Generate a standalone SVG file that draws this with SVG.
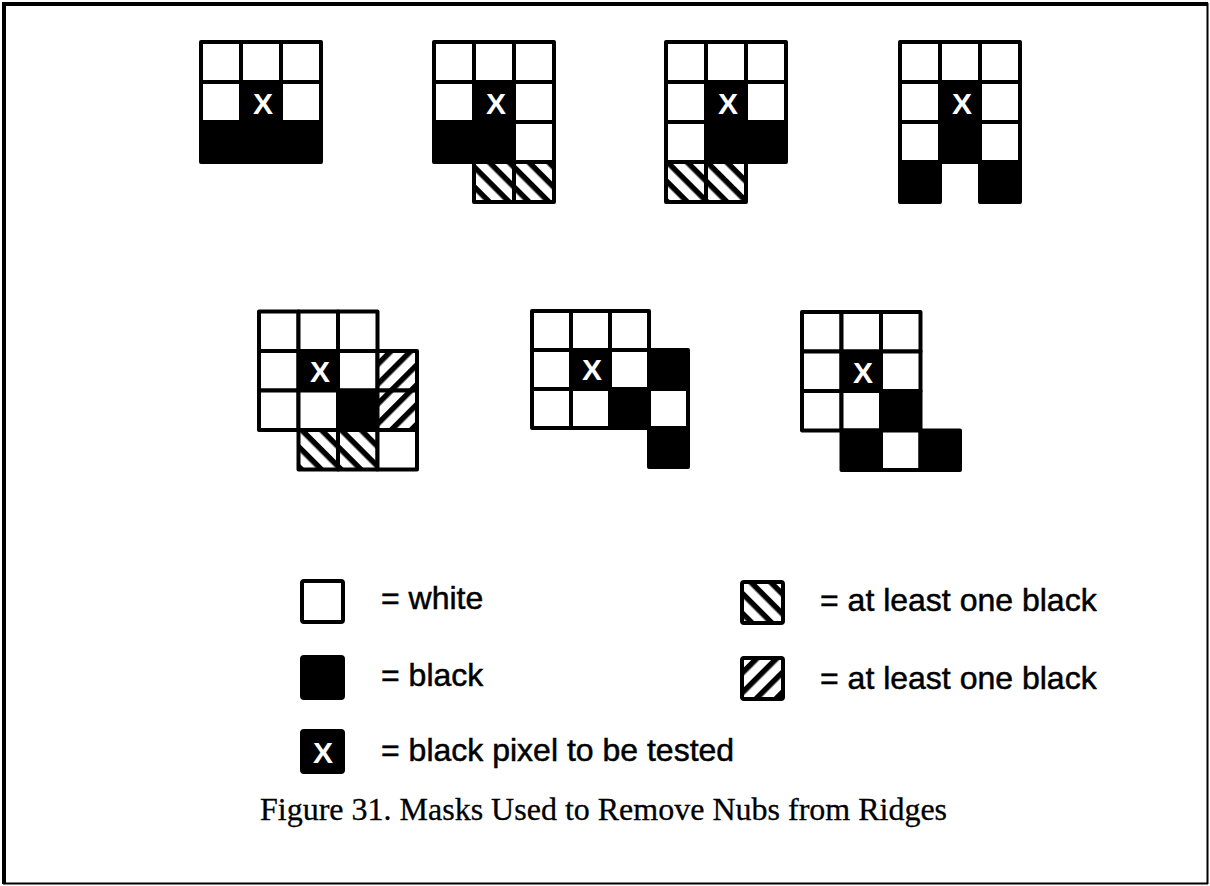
<svg xmlns="http://www.w3.org/2000/svg" width="1210" height="886" viewBox="0 0 1210 886">
<style>
.w{fill:#fff;stroke:#000;stroke-width:4;stroke-linejoin:round}
.b{fill:#000;stroke:#000;stroke-width:4;stroke-linejoin:round}
.hb{fill:url(#hb);stroke:#000;stroke-width:4;stroke-linejoin:round}
.hf{fill:url(#hf);stroke:#000;stroke-width:4;stroke-linejoin:round}
.x{font-family:"Liberation Sans",Arial,sans-serif;font-weight:bold;font-size:30px;fill:#fff;text-anchor:middle}
.t{font-family:"Liberation Sans",Arial,sans-serif;font-size:32px;fill:#000;stroke:#000;stroke-width:0.5}
.cap{font-family:"Liberation Serif","Times New Roman",serif;font-size:32px;fill:#000;stroke:#000;stroke-width:0.3}
</style>
<defs>
<pattern id="hb" width="14" height="14" patternUnits="userSpaceOnUse" patternTransform="rotate(45)"><rect width="14" height="14" fill="#fff"/><rect y="4" width="14" height="5.5" fill="#000"/></pattern>
<pattern id="hf" width="14" height="14" patternUnits="userSpaceOnUse" patternTransform="rotate(-45)"><rect width="14" height="14" fill="#fff"/><rect y="4" width="14" height="5.5" fill="#000"/></pattern>
</defs>
<rect width="1210" height="886" fill="#fff"/>
<g id="frame" stroke="#000">
<line x1="4" y1="2" x2="4" y2="884" stroke-width="4"/>
<line x1="2" y1="4" x2="1208" y2="4" stroke-width="4"/>
<line x1="1207.5" y1="3" x2="1207.5" y2="884" stroke-width="2"/>
<line x1="3" y1="883.5" x2="1208" y2="883.5" stroke-width="2"/>
</g>
<g id="connectors"/>
<g id="mask1">
<rect class="w" x="201" y="42" width="40" height="40"/><rect class="w" x="241" y="42" width="40" height="40"/><rect class="w" x="281" y="42" width="40" height="40"/>
<rect class="w" x="201" y="82" width="40" height="40"/><rect class="b" x="241" y="82" width="40" height="40"/><rect class="w" x="281" y="82" width="40" height="40"/>
<rect class="b" x="201" y="122" width="40" height="40"/><rect class="b" x="241" y="122" width="40" height="40"/><rect class="b" x="281" y="122" width="40" height="40"/>
<text class="x" x="263" y="114">X</text>
</g>
<g id="mask2">
<rect class="w" x="434" y="42" width="40" height="40"/><rect class="w" x="474" y="42" width="40" height="40"/><rect class="w" x="514" y="42" width="40" height="40"/>
<rect class="w" x="434" y="82" width="40" height="40"/><rect class="b" x="474" y="82" width="40" height="40"/><rect class="w" x="514" y="82" width="40" height="40"/>
<rect class="b" x="434" y="122" width="40" height="40"/><rect class="b" x="474" y="122" width="40" height="40"/><rect class="w" x="514" y="122" width="40" height="40"/>
<rect class="hb" x="474" y="162" width="40" height="40"/><rect class="hb" x="514" y="162" width="40" height="40"/>
<text class="x" x="496" y="114">X</text>
</g>
<g id="mask3">
<rect class="w" x="666" y="42" width="40" height="40"/><rect class="w" x="706" y="42" width="40" height="40"/><rect class="w" x="746" y="42" width="40" height="40"/>
<rect class="w" x="666" y="82" width="40" height="40"/><rect class="b" x="706" y="82" width="40" height="40"/><rect class="w" x="746" y="82" width="40" height="40"/>
<rect class="w" x="666" y="122" width="40" height="40"/><rect class="b" x="706" y="122" width="40" height="40"/><rect class="b" x="746" y="122" width="40" height="40"/>
<rect class="hb" x="666" y="162" width="40" height="40"/><rect class="hb" x="706" y="162" width="40" height="40"/>
<text class="x" x="728" y="114">X</text>
</g>
<g id="mask4">
<rect class="w" x="900" y="42" width="40" height="40"/><rect class="w" x="940" y="42" width="40" height="40"/><rect class="w" x="980" y="42" width="40" height="40"/>
<rect class="w" x="900" y="82" width="40" height="40"/><rect class="b" x="940" y="82" width="40" height="40"/><rect class="w" x="980" y="82" width="40" height="40"/>
<rect class="w" x="900" y="122" width="40" height="40"/><rect class="b" x="940" y="122" width="40" height="40"/><rect class="w" x="980" y="122" width="40" height="40"/>
<rect class="b" x="900" y="162" width="40" height="40"/><rect class="b" x="980" y="162" width="40" height="40"/>
<text class="x" x="962" y="114">X</text>
</g>
<g id="mask5">
<rect class="w" x="259" y="311.5" width="39.5" height="39.5"/><rect class="w" x="298.5" y="311.5" width="39.5" height="39.5"/><rect class="w" x="338" y="311.5" width="39.5" height="39.5"/>
<rect class="w" x="259" y="351" width="39.5" height="39.5"/><rect class="b" x="298.5" y="351" width="39.5" height="39.5"/><rect class="w" x="338" y="351" width="39.5" height="39.5"/><rect class="hf" x="377.5" y="351" width="39.5" height="39.5"/>
<rect class="w" x="259" y="390.5" width="39.5" height="39.5"/><rect class="w" x="298.5" y="390.5" width="39.5" height="39.5"/><rect class="b" x="338" y="390.5" width="39.5" height="39.5"/><rect class="hf" x="377.5" y="390.5" width="39.5" height="39.5"/>
<rect class="hb" x="298.5" y="430" width="39.5" height="39.5"/><rect class="hb" x="338" y="430" width="39.5" height="39.5"/><rect class="w" x="377.5" y="430" width="39.5" height="39.5"/>
<text class="x" x="320" y="382">X</text>
</g>
<g id="mask6">
<rect class="w" x="532" y="311" width="39" height="39"/><rect class="w" x="571" y="311" width="39" height="39"/><rect class="w" x="610" y="311" width="39" height="39"/>
<rect class="w" x="532" y="350" width="39" height="39"/><rect class="b" x="571" y="350" width="39" height="39"/><rect class="w" x="610" y="350" width="39" height="39"/><rect class="b" x="649" y="350" width="39" height="39"/>
<rect class="w" x="532" y="389" width="39" height="39"/><rect class="w" x="571" y="389" width="39" height="39"/><rect class="b" x="610" y="389" width="39" height="39"/><rect class="w" x="649" y="389" width="39" height="39"/>
<rect class="b" x="649" y="428" width="39" height="39"/>
<text class="x" x="592" y="380">X</text>
</g>
<g id="mask7">
<rect class="w" x="802" y="312" width="39.5" height="39.5"/><rect class="w" x="841.5" y="312" width="39.5" height="39.5"/><rect class="w" x="881" y="312" width="39.5" height="39.5"/>
<rect class="w" x="802" y="351.5" width="39.5" height="39.5"/><rect class="b" x="841.5" y="351.5" width="39.5" height="39.5"/><rect class="w" x="881" y="351.5" width="39.5" height="39.5"/>
<rect class="w" x="802" y="391" width="39.5" height="39.5"/><rect class="w" x="841.5" y="391" width="39.5" height="39.5"/><rect class="b" x="881" y="391" width="39.5" height="39.5"/>
<rect class="b" x="841.5" y="430.5" width="39.5" height="39.5"/><rect class="w" x="881" y="430.5" width="39.5" height="39.5"/><rect class="b" x="920.5" y="430.5" width="39.5" height="39.5"/>
<text class="x" x="863" y="383">X</text>
</g>
<g id="legend-white">
<rect class="w" x="302" y="581" width="41" height="41" rx="2"/>
<text class="t" x="381" y="609">= white</text>
</g>
<g id="legend-black">
<rect class="b" x="302" y="657" width="41" height="41" rx="2"/>
<text class="t" x="381" y="686">= black</text>
</g>
<g id="legend-test">
<rect class="b" x="302" y="731" width="41" height="41" rx="2"/>
<text class="x" x="323" y="763">X</text>
<text class="t" x="381" y="761">= black pixel to be tested</text>
</g>
<g id="legend-hatch-back">
<rect class="hb" x="742" y="582" width="41" height="41" rx="2"/>
<text class="t" x="820" y="611">= at least one black</text>
</g>
<g id="legend-hatch-fwd">
<rect class="hf" x="742" y="658" width="41" height="41" rx="2"/>
<text class="t" x="820" y="689">= at least one black</text>
</g>
<g id="caption">
<text class="cap" x="260" y="820">Figure 31.  Masks Used to Remove Nubs from Ridges</text>
</g>
</svg>
